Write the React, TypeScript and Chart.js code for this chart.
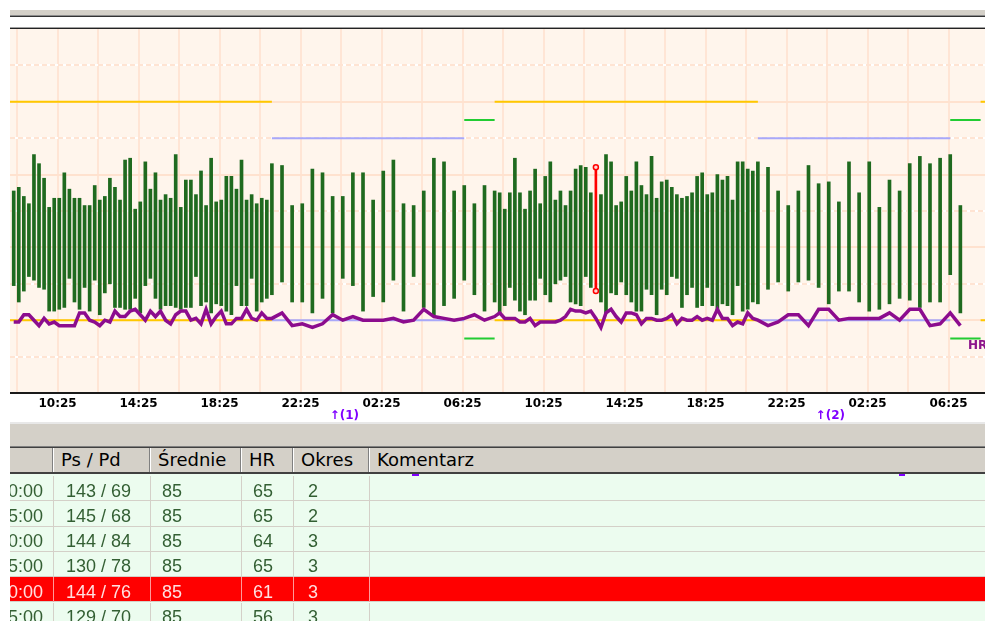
import React, { useEffect, useRef } from "react";
import { Chart, registerables } from "chart.js";

Chart.register(...registerables);

// ---- measurement data (clock times, day rolls over automatically) ----
const TIMES = [
  "08:15","08:30","08:45","09:00","09:15","09:30","09:45","10:00","10:15","10:30","10:45","11:00","11:15","11:30","11:45",
  "12:00","12:15","12:30","12:45","13:00","13:15","13:30","13:45","14:00","14:15","14:30","14:45","15:00","15:15","15:30","15:45",
  "16:00","16:15","16:30","16:45","17:00","17:15","17:30","17:45","18:00","18:15","18:30","18:45","19:00","19:15","19:30","19:45",
  "20:00","20:15","20:30","20:45","21:00",
  "21:30","22:00","22:30","23:00","23:30","00:00","00:30","01:00","01:30","02:00","02:30","03:00","03:30","04:00","04:30","05:00",
  "05:30","06:00","06:30","07:00","07:30",
  "08:00","08:15","08:30","08:45","09:00","09:15","09:30","09:45","10:00","10:15","10:30","10:45","11:00","11:15","11:30","11:45",
  "12:00","12:15","12:30","12:45","13:00","13:15","13:30","13:45","14:00","14:15","14:30","14:45","15:00","15:15","15:30","15:45",
  "16:00","16:15","16:30","16:45","17:00","17:15","17:30","17:45","18:00","18:15","18:30","18:45","19:00","19:15","19:30","19:45",
  "20:00","20:15","20:30","20:45","21:00",
  "21:30","22:00","22:30","23:00","23:30","00:00","00:30","01:00","01:30","02:00","02:30","03:00","03:30","04:00","04:30","05:00",
  "05:30","06:00","06:30","07:00",
];

const SYS = [
  131,133,128,124,151,146,138,122,127,127,
  141,132,127,127,123,123,134,126,128,138,
  133,126,148,149,121,125,147,132,141,126,
  129,127,151,122,137,137,129,142,123,149,
  125,126,139,139,132,148,126,129,124,127,
  126,146,145,123,124,143,141,128,128,141,
  141,126,142,148,124,123,131,149,147,131,
  134,124,134,131,130,121,130,149,130,121,
  131,143,124,139,147,126,131,123,131,143,
  145,144,130,144,129,151,147,123,125,139,
  131,147,134,129,150,127,136,137,133,129,
  127,128,130,139,141,129,130,140,137,139,
  126,147,147,143,142,147,144,131,123,131,
  145,135,136,125,147,130,147,122,137,131,
  146,150,146,149,151,123,
];

const DIA = [
  79,70,76,84,82,78,77,65,65,66,
  67,83,70,66,78,65,82,63,75,80,
  67,67,66,66,72,64,79,83,72,66,
  68,68,67,66,67,67,84,68,70,64,
  69,68,65,63,79,68,68,83,65,70,
  72,74,81,70,70,64,72,64,83,79,
  65,73,70,82,65,84,67,62,68,72,
  82,74,65,70,64,68,78,71,65,63,
  71,71,83,74,70,80,82,84,70,69,
  68,84,78,76,70,64,75,74,81,74,
  70,65,65,77,74,63,77,74,84,83,
  67,74,78,67,68,78,68,65,69,68,
  63,79,65,66,70,69,77,81,76,81,
  82,78,69,76,76,70,65,66,69,72,
  71,67,70,70,85,64,
];

const HR = [
  59,59,63,63,60,57,61,58,59,57,
  57,57,57,64,64,60,59,57,60,59,
  65,62,62,65,66,63,60,65,62,65,
  60,58,63,65,65,60,61,58,66,58,
  62,65,58,58,61,61,66,61,60,64,
  61,61,64,57,58,56,58,63,60,62,
  60,60,60,61,59,60,66,62,61,60,
  61,63,60,62,64,61,61,61,59,59,
  61,57,59,59,59,59,60,62,66,65,
  65,64,65,61,56,64,66,62,59,64,
  64,63,58,61,61,60,60,61,63,58,
  61,60,60,62,60,61,60,66,61,61,
  57,59,58,64,61,60,57,59,63,63,
  57,66,66,60,61,61,61,61,64,60,
  66,66,57,58,64,57,
];

const SELECTED = 93;

// ---- axis ----
const X_RANGE = ["1 08:04", "3 08:13"];
const Y_MIN = 20;
const Y_MAX = 220;
const SOLID_Y = [60, 100, 140, 180];
const DASHED_Y = [40, 80, 120, 160, 200];
const GRID_TIMES = [
  "08:25","10:25","12:25","14:25","16:25","18:25","20:25","22:25","00:25","02:25","04:25","06:25",
  "08:25","10:25","12:25","14:25","16:25","18:25","20:25","22:25","00:25","02:25","04:25","06:25",
];
const LABELED_TIMES = ["10:25","14:25","18:25","22:25","02:25","06:25"];

// ---- limit periods ----
const DAY_PERIODS = [["1 08:00","1 21:00"],["2 08:00","2 21:00"],["3 08:00","3 09:00"]];
const NIGHT_PERIODS = [["1 21:00","2 06:30"],["2 21:00","3 06:30"]];
const MORNING_PERIODS = [["2 06:30","2 08:00"],["3 06:30","3 08:00"]];
const DAY_LIMITS = [180, 60];
const NIGHT_LIMITS = [160, 60];
const MORNING_LIMITS = [170, 50];
const DAY_MARKERS = [["2 00:00","(1)"],["3 00:00","(2)"]];
const HR_LABEL_VALUE = 46;

// ---- table ----
const TABLE_HEAD = ["", "Ps / Pd", "Średnie", "HR", "Okres", "Komentarz"];
const TABLE_INDEXES = [89, 90, 91, 92, 93, 94];
const TABLE_MEAN = [85, 85, 85, 85, 85, 85];
const TABLE_PERIOD = [2, 2, 3, 3, 3, 3];

function clockList(list: string[]): number[] {
  let day = 0;
  let prev = -1;
  return list.map((s) => {
    const [h, m] = s.split(":").map(Number);
    const v = h + m / 60;
    if (v < prev) day++;
    prev = v;
    return day * 24 + v;
  });
}
function dayClock(s: string): number {
  const [d, t] = s.split(" ");
  const [h, m] = t.split(":").map(Number);
  return (Number(d) - 1) * 24 + h + m / 60;
}
function segs(periods: string[][], lims: number[]) {
  const out: any[] = [];
  for (const lim of lims)
    for (const [s, e] of periods) {
      out.push({ x: dayClock(s), y: lim }, { x: dayClock(e), y: lim }, { x: dayClock(e), y: null });
    }
  return out;
}

const COL_X = [-120, 43, 140, 231, 283, 359, 990];
const ROW_PAD = [0, 12, 11, 11, 14, 12];

function ChartBox() {
  const ref = useRef<HTMLCanvasElement | null>(null);
  useEffect(() => {
    const xs = clockList(TIMES);
    const gridH = clockList(GRID_TIMES);
    const bgPlugin = {
      id: "bg",
      beforeDraw(c: any) {
        const { ctx, chartArea: a } = c;
        ctx.save();
        ctx.fillStyle = "#fff5ec";
        ctx.fillRect(a.left, a.top, a.right - a.left, a.bottom - a.top);
        ctx.restore();
      },
    };
    const labelPlugin = {
      id: "labels",
      afterDraw(c: any) {
        const { ctx, chartArea: a } = c;
        const xs2 = c.scales.x;
        const ys = c.scales.y;
        ctx.save();
        ctx.textBaseline = "middle";
        ctx.textAlign = "left";
        ctx.font = "bold 12px 'DejaVu Sans'";
        ctx.fillStyle = "#7f00ff";
        for (const [t, lab] of DAY_MARKERS) {
          const px = xs2.getPixelForValue(dayClock(t));
          ctx.fillText("↑" + lab, px - 3, a.bottom + 23);
        }
        ctx.font = "bold 12px 'DejaVu Sans'";
        ctx.fillStyle = "#8c148c";
        ctx.fillText("HR", a.right - 17, ys.getPixelForValue(HR_LABEL_VALUE));
        ctx.restore();
      },
    };
    const hidden = { display: false, padding: 0 };
    const yBase = (vals: number[]) => ({
      type: "linear",
      position: "left",
      min: Y_MIN,
      max: Y_MAX,
      offset: false,
      afterBuildTicks: (ax: any) => {
        ax.ticks = vals.map((v) => ({ value: v }));
      },
      ticks: hidden,
    });
    const chart = new Chart(ref.current as HTMLCanvasElement, {
      type: "bar",
      data: {
        datasets: [
          { type: "line", data: segs(DAY_PERIODS, DAY_LIMITS), borderColor: "#ffc800", borderWidth: 2, pointRadius: 0, spanGaps: false, order: 10 } as any,
          { type: "line", data: segs(NIGHT_PERIODS, NIGHT_LIMITS), borderColor: "#a8a8fa", borderWidth: 2, pointRadius: 0, spanGaps: false, order: 10 } as any,
          { type: "line", data: segs(MORNING_PERIODS, MORNING_LIMITS), borderColor: "#22cc33", borderWidth: 2, pointRadius: 0, spanGaps: false, order: 10 } as any,
          {
            type: "bar",
            data: xs.map((x, i) => ({ x, y: [DIA[i], SYS[i]] })).filter((_, i) => i !== SELECTED),
            backgroundColor: "#1f6a1f",
            barThickness: 3,
            grouped: false,
            order: 5,
          } as any,
          {
            type: "line",
            data: xs.map((x, i) => ({ x, y: HR[i] })),
            borderColor: "#8c0c8e",
            borderWidth: 3.5,
            pointRadius: 0,
            tension: 0,
            order: 2,
          } as any,
          {
            type: "bar",
            data: [{ x: xs[SELECTED], y: [DIA[SELECTED], SYS[SELECTED]] }],
            backgroundColor: "#ff0000",
            barThickness: 2,
            grouped: false,
            order: 1,
          } as any,
          {
            type: "line",
            showLine: false,
            data: [
              { x: xs[SELECTED], y: SYS[SELECTED] },
              { x: xs[SELECTED], y: DIA[SELECTED] },
            ],
            pointStyle: "circle",
            pointRadius: 2.5,
            pointBorderColor: "#ff0000",
            pointBackgroundColor: "#ffd6d6",
            pointBorderWidth: 1.5,
            order: 0,
          } as any,
        ],
      },
      options: {
        responsive: false,
        animation: false,
        events: [],
        layout: { autoPadding: false, padding: { top: 29, left: 0, right: 0, bottom: 12.6 } },
        plugins: { legend: { display: false }, tooltip: { enabled: false } },
        scales: {
          x: {
            type: "linear",
            min: dayClock(X_RANGE[0]),
            max: dayClock(X_RANGE[1]),
            offset: false,
            afterBuildTicks: (ax: any) => {
              ax.ticks = gridH.map((v) => ({ value: v }));
            },
            grid: { color: "#ffe5d5", lineWidth: 2, drawTicks: true, tickLength: 4, tickColor: "rgba(0,0,0,0)", offset: false },
            border: { display: true, color: "#1a1a1a", width: 2 },
            ticks: {
              autoSkip: false,
              maxRotation: 0,
              minRotation: 0,
              padding: 0,
              color: "#000",
              font: { family: "'DejaVu Sans'", size: 12, weight: "bold" },
              callback: (_v: any, i: number) => (LABELED_TIMES.includes(GRID_TIMES[i]) ? GRID_TIMES[i] : ""),
            },
          },
          yw: { ...yBase(DASHED_Y), grid: { color: "#ffffff", lineWidth: 2, drawTicks: false }, border: { display: false, dash: [3, 5], dashOffset: 3 } },
          yd: { ...yBase(DASHED_Y), grid: { color: "#ffe4d3", lineWidth: 2, drawTicks: false }, border: { display: false, dash: [5, 3] } },
          y: { ...yBase(SOLID_Y), grid: { color: "#ffe2cf", lineWidth: 2, drawTicks: false }, border: { display: false } },
        } as any,
      },
      plugins: [bgPlugin, labelPlugin],
    } as any);
    return () => chart.destroy();
  }, []);
  return (
    <canvas
      ref={ref}
      width={975}
      height={424}
      style={{ position: "absolute", left: 0, top: 0, width: 975, height: 424, display: "block" }}
    />
  );
}

function line(top: number, h: number, color: string, left = 0, width = 990) {
  return <div style={{ position: "absolute", left, top, width, height: h, background: color }} />;
}

export default function App() {
  const rowH = 25.3;
  const rowTop0 = 476;
  return (
    <div style={{ position: "fixed", left: 0, top: 0, width: 985, height: 621, overflow: "hidden", background: "#fff" }}>
      <div style={{ position: "absolute", left: 10, top: 0, width: 975, height: 621, overflow: "hidden" }}>
        {line(10, 5, "#d4d0c8")}
        {line(15, 1, "#8c8c8c")}
        {line(16, 1, "#333")}
        {line(27, 1, "#a0a0a0")}
        {line(28, 1, "#222")}
        <ChartBox />
        {line(422, 2, "#e8e8e8")}
        {line(424, 22, "#d4d0c8")}
        {line(446, 1, "#808080")}
        {line(447, 1, "#404040")}
        {TABLE_HEAD.map((h, c) => (
          <div
            key={"h" + c}
            style={{
              position: "absolute",
              left: COL_X[c],
              top: 448,
              width: COL_X[c + 1] - COL_X[c],
              height: 24,
              boxSizing: "border-box",
              background: "#d4d0c8",
              borderLeft: "1px solid #ffffff",
              borderRight: "1px solid #808080",
              fontFamily: "'DejaVu Sans'",
              fontSize: 18,
              lineHeight: "24px",
              paddingTop: 4,
              paddingLeft: 7,
              color: "#000",
              whiteSpace: "nowrap",
            }}
          >
            <span style={{ position: "relative", top: -4 }}>{h}</span>
          </div>
        ))}
        {line(472, 2, "#404040")}
        {line(474, 150, "#ecfcef")}
        {TABLE_INDEXES.map((idx, r) => {
          const sel = idx === SELECTED;
          const cells = [
            TIMES[idx] + ":00",
            SYS[idx] + " / " + DIA[idx],
            String(TABLE_MEAN[r]),
            String(HR[idx]),
            String(TABLE_PERIOD[r]),
            "",
          ];
          return (
            <div
              key={"r" + r}
              style={{
                position: "absolute",
                left: -130,
                top: rowTop0 + r * rowH,
                width: 1130,
                height: rowH,
                boxSizing: "border-box",
                background: sel ? "#ff0000" : "#ecfcef",
                borderBottom: "1px solid #d4d0c8",
              }}
            >
              {cells.map((t, c) => (
                <div
                  key={c}
                  style={{
                    position: "absolute",
                    left: COL_X[c] + 130,
                    top: 0,
                    width: COL_X[c + 1] - COL_X[c],
                    height: rowH,
                    boxSizing: "border-box",
                    borderLeft: c > 0 ? (sel ? "1px solid #ff9a9a" : "1px solid #d4d0c8") : "none",
                    fontFamily: "'Liberation Sans'",
                    fontSize: 18,
                    lineHeight: "25px",
                    paddingTop: 2.6,
                    paddingLeft: c === 0 ? 0 : ROW_PAD[c],
                    paddingRight: c === 0 ? 10 : 0,
                    textAlign: c === 0 ? "right" : "left",
                    color: sel ? "#ffe0e0" : "#335f33",
                    whiteSpace: "nowrap",
                  }}
                >
                  {t}
                </div>
              ))}
            </div>
          );
        })}
        <div style={{ position: "absolute", left: 401.5, top: 474, width: 7, height: 2, background: "#7f00ff" }} />
        <div style={{ position: "absolute", left: 889, top: 474, width: 6, height: 2, background: "#7f00ff" }} />
      </div>
    </div>
  );
}
